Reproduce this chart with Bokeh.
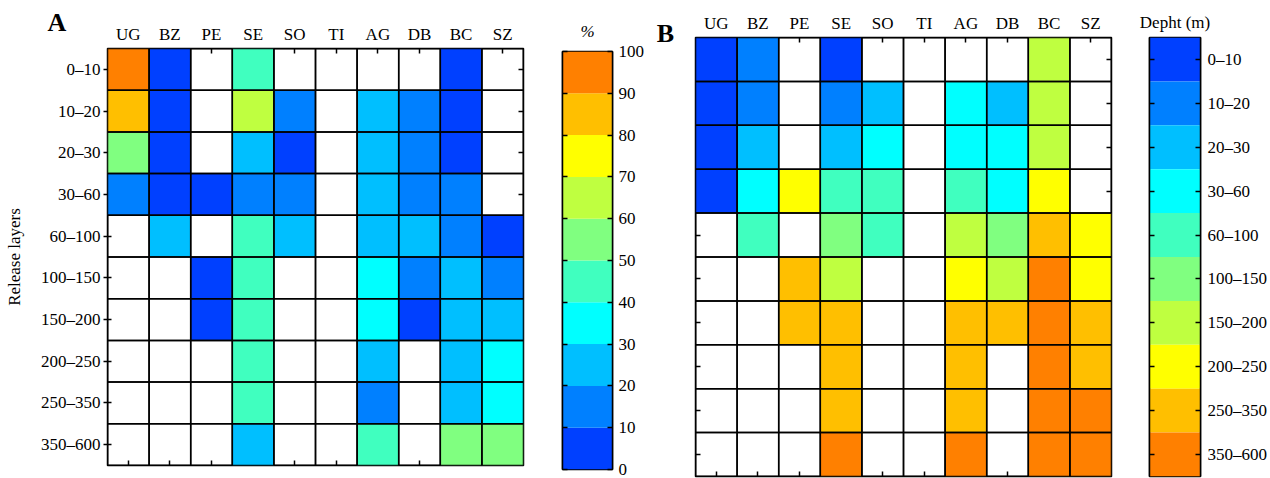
import pandas as pd
from bokeh.plotting import figure
from bokeh.layouts import row, column
from bokeh.models import (FactorRange, Range1d, CategoricalAxis, LinearAxis, FixedTicker,
                          ColumnDataSource, LinearColorMapper, CategoricalColorMapper)
from bokeh.core.properties import value
from bokeh.embed import file_html
from bokeh.resources import INLINE

FONT = "Liberation Serif"
LABEL_SIZE = "17px"

# ---- categories -------------------------------------------------------------
stations = ["UG", "BZ", "PE", "SE", "SO", "TI", "AG", "DB", "BC", "SZ"]
layers = ["0–10", "10–20", "20–30", "30–60", "60–100",
          "100–150", "150–200", "200–250", "250–350", "350–600"]
depth_classes = ["0–10", "10–20", "20–30", "30–60", "60–100",
                 "100–150", "150–200", "200–250", "250–350", "350–600"]
share_levels = [0, 10, 20, 30, 40, 50, 60, 70, 80, 90, 100]

palette = ["#0040FF", "#0080FF", "#00BFFF", "#00FFFF", "#40FFBF",
           "#80FF80", "#BFFF40", "#FFFF00", "#FFBF00", "#FF8000"]

# ---- panel A: share (%) per release layer and station -----------------------
share_UG = [96, 86, 55, 16, None, None, None, None, None, None]
share_BZ = [5, 4, 6, 8, 24, None, None, None, None, None]
share_PE = [None, None, None, 7, None, 5, 6, None, None, None]
share_SE = [44, 63, 26, 14, 43, 46, 45, 44, 42, 23]
share_SO = [None, 13, 6, 15, 22, None, None, None, None, None]
share_TI = [None, None, None, None, None, None, None, None, None, None]
share_AG = [None, 27, 24, 25, 23, 36, 37, 26, 14, 41]
share_DB = [None, 17, 18, 14, 21, 16, 4, None, None, None]
share_BC = [7, 5, 6, 12, 17, 25, 24, 23, 27, 57]
share_SZ = [None, None, None, None, 8, 15, 24, 33, 35, 54]

# ---- panel B: depth class reached per release layer and station -------------
depth_UG = ["0–10", "0–10", "0–10", "0–10", None, None, None, None, None, None]
depth_BZ = ["10–20", "10–20", "20–30", "30–60", "60–100", None, None, None, None, None]
depth_PE = [None, None, None, "200–250", None, "250–350", "250–350", None, None, None]
depth_SE = ["0–10", "10–20", "20–30", "60–100", "100–150", "150–200",
            "250–350", "250–350", "250–350", "350–600"]
depth_SO = [None, "20–30", "30–60", "60–100", "60–100", None, None, None, None, None]
depth_TI = [None, None, None, None, None, None, None, None, None, None]
depth_AG = [None, "30–60", "30–60", "60–100", "150–200", "200–250",
            "250–350", "250–350", "250–350", "350–600"]
depth_DB = [None, "20–30", "30–60", "30–60", "100–150", "150–200", "250–350", None, None, None]
depth_BC = ["150–200", "150–200", "150–200", "200–250", "250–350",
            "350–600", "350–600", "350–600", "350–600", "350–600"]
depth_SZ = [None, None, None, None, "200–250", "200–250", "250–350",
            "250–350", "350–600", "350–600"]

share = dict(zip(stations, [share_UG, share_BZ, share_PE, share_SE, share_SO,
                            share_TI, share_AG, share_DB, share_BC, share_SZ]))
depth = dict(zip(stations, [depth_UG, depth_BZ, depth_PE, depth_SE, depth_SO,
                            depth_TI, depth_AG, depth_DB, depth_BC, depth_SZ]))


def long_table(by_station):
    recs = [(st, lay, v) for st, vals in by_station.items() for lay, v in zip(layers, vals)]
    return pd.DataFrame(recs, columns=["station", "layer", "value"])


def factor_centres(factors):
    # synthetic coordinate of each factor's centre on a FactorRange
    return [i + 0.5 for i in range(len(factors))]


def tick_axis(positions, tick_in=5, level="underlay"):
    """Unlabelled tick marks (as minor ticks, so no label text is produced)."""
    return LinearAxis(
        ticker=FixedTicker(ticks=[], minor_ticks=positions),
        major_tick_line_color=None, major_label_text_font_size="0px",
        minor_tick_in=tick_in, minor_tick_out=0,
        minor_tick_line_color="black", minor_tick_line_width=1.5,
        axis_line_color="black", axis_line_width=1.5, level=level)


def label_axis(standoff=5, tick_out=0):
    return CategoricalAxis(
        major_tick_in=0, major_tick_out=tick_out, major_label_standoff=standoff,
        major_label_text_font=FONT, major_label_text_font_size=LABEL_SIZE,
        major_label_text_color="black",
        axis_line_color=None,
        major_tick_line_color="black" if tick_out else None, major_tick_line_width=1.5,
        minor_tick_line_color=None)


def heatmap(table, mapper, frame_h, borders, row_labels):
    left, right, top, bottom = borders
    p = figure(x_range=FactorRange(*stations), y_range=FactorRange(*layers[::-1]),
               frame_width=416, frame_height=frame_h,
               min_border_left=left, min_border_right=right,
               min_border_top=top, min_border_bottom=bottom,
               x_axis_location=None, y_axis_location=None,
               output_backend="svg", toolbar_location=None)
    p.grid.visible = False
    p.outline_line_color = "black"
    p.outline_line_width = 1.5
    p.outline_line_alpha = 1.0

    # tick-only axes sit next to the frame (beneath the cells), label axes outside
    xc, yc = factor_centres(stations), factor_centres(layers)
    p.add_layout(tick_axis(xc), "above")
    p.add_layout(tick_axis(xc), "below")
    p.add_layout(tick_axis(yc), "right")
    p.add_layout(tick_axis(yc, 4 if row_labels else 5), "left")
    p.add_layout(label_axis(), "above")
    if row_labels:
        ax = label_axis(standoff=3, tick_out=4)
        ax.axis_label = "Release layers"
        ax.axis_label_text_font = FONT
        ax.axis_label_text_font_size = LABEL_SIZE
        ax.axis_label_text_font_style = "normal"
        ax.axis_label_text_color = "black"
        ax.axis_label_standoff = 14
        p.add_layout(ax, "left")

    filled = table.dropna()
    p.rect(x="station", y="layer", width=1, height=1,
           source=ColumnDataSource(filled),
           fill_color={"field": "value", "transform": mapper}, line_color=None)
    p.rect(x="station", y="layer", width=1, height=1,
           source=ColumnDataSource(table[["station", "layer"]]),
           fill_color=None, line_color="black", line_width=1.5)
    return p


def colorbar_title(p, text, style, standoff):
    p.title.text = text
    p.title.align = "center"
    p.title.text_font = FONT
    p.title.text_font_size = LABEL_SIZE
    p.title.text_font_style = style
    p.title.text_color = "black"
    p.title.standoff = standoff


def frame_box(p):
    p.grid.visible = False
    p.outline_line_color = "black"
    p.outline_line_width = 1.5
    p.outline_line_alpha = 1.0


# ---- panel A heatmap ----------------------------------------------------------
share_mapper = LinearColorMapper(palette=palette, low=share_levels[0], high=share_levels[-1])
p_a = heatmap(long_table(share), share_mapper, 417, (107, 17, 48, 13), True)
p_a.title.text = "A"
p_a.title.align = "left"
p_a.title.offset = -60
p_a.title.standoff = -30
p_a.title.text_font = FONT
p_a.title.text_font_size = "26px"
p_a.title.text_font_style = "bold"
p_a.title.text_color = "black"

# ---- panel A colour scale -----------------------------------------------------
p_ca = figure(x_range=Range1d(0, 1), y_range=Range1d(share_levels[0], share_levels[-1]),
              frame_width=50, frame_height=418,
              min_border_left=22, min_border_right=33, min_border_top=51, min_border_bottom=9,
              x_axis_location=None, y_axis_location=None,
              output_backend="svg", toolbar_location=None)
p_ca.quad(left=0, right=1, bottom=share_levels[:-1], top=share_levels[1:],
          fill_color=palette, line_color=None)
p_ca.add_layout(tick_axis(share_levels, level="guide"), "left")
p_ca.add_layout(LinearAxis(ticker=FixedTicker(ticks=share_levels),
                           major_tick_in=5, major_tick_out=0, major_label_standoff=6,
                           major_label_text_font=FONT, major_label_text_font_size=LABEL_SIZE,
                           major_label_text_color="black",
                           axis_line_color="black", axis_line_width=1.5,
                           major_tick_line_color="black", major_tick_line_width=1.5,
                           minor_tick_line_color=None), "right")
frame_box(p_ca)
colorbar_title(p_ca, "%", "italic", 22)

# ---- panel letter B (sits in the gap left of panel B) -------------------------
p_letter = figure(x_range=Range1d(0, 35), y_range=Range1d(478, 0),
                  frame_width=35, frame_height=478, min_border=0,
                  x_axis_location=None, y_axis_location=None,
                  output_backend="svg", toolbar_location=None)
p_letter.grid.visible = False
p_letter.outline_line_color = None
p_letter.text(x=[18], y=[33], text=["B"], text_font=value(FONT), text_font_size="26px",
              text_font_style="bold", text_align="center", text_baseline="alphabetic",
              text_color="black")

# ---- panel B heatmap ----------------------------------------------------------
depth_mapper = CategoricalColorMapper(palette=palette, factors=depth_classes)
p_b = heatmap(long_table(depth), depth_mapper, 439, (13, 16, 37, 2), False)

# ---- panel B colour scale -----------------------------------------------------
p_cb = figure(x_range=Range1d(0, 1), y_range=FactorRange(*depth_classes[::-1]),
              frame_width=51, frame_height=439,
              min_border_left=22, min_border_right=72, min_border_top=37, min_border_bottom=2,
              x_axis_location=None, y_axis_location=None,
              output_backend="svg", toolbar_location=None)
p_cb.rect(x=0.5, y=depth_classes, width=1, height=1, fill_color=palette, line_color=None)
p_cb.add_layout(tick_axis(factor_centres(depth_classes), level="guide"), "left")
p_cb.add_layout(CategoricalAxis(major_tick_in=5, major_tick_out=0, major_label_standoff=7,
                                major_label_text_font=FONT,
                                major_label_text_font_size=LABEL_SIZE,
                                major_label_text_color="black",
                                axis_line_color="black", axis_line_width=1.5,
                                major_tick_line_color="black", major_tick_line_width=1.5),
                "right")
frame_box(p_cb)
colorbar_title(p_cb, "Depht (m)", "normal", 11)

# each panel in its own column so the frames keep their own vertical placement
layout = row(column(p_a), column(p_ca), column(p_letter), column(p_b), column(p_cb),
             spacing=0)
open("out.html", "w").write(file_html(layout, INLINE))
